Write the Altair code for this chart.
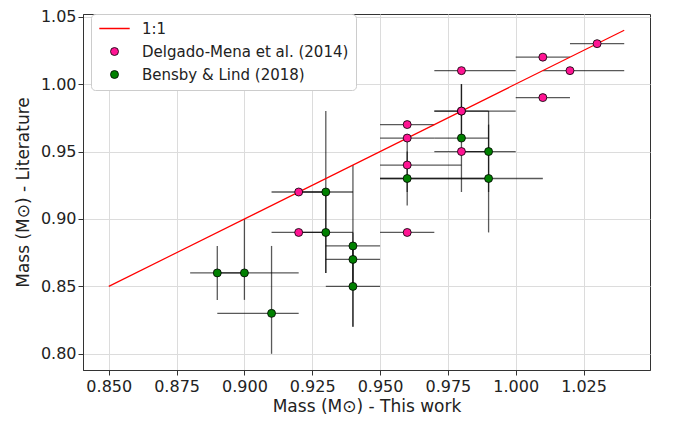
import altair as alt
import pandas as pd

# ---------------- data ----------------
series_names = ["1:1", "Delgado-Mena et al. (2014)", "Bensby & Lind (2018)"]

# 1:1 line
line_x = [0.85, 1.04]
line_y = [0.85, 1.04]

# Delgado-Mena et al. (2014)
dm_x = [0.92, 0.92, 0.96, 0.96, 0.96, 0.96, 0.98, 0.98, 0.98, 1.01, 1.01, 1.02, 1.03]
dm_y = [0.92, 0.89, 0.97, 0.96, 0.94, 0.89, 1.01, 0.98, 0.95, 1.02, 0.99, 1.01, 1.03]
dm_xlo = [0.91, 0.91, 0.95, 0.95, 0.95, 0.95, 0.97, 0.97, 0.97, 1.00, 1.00, 1.01, 1.02]
dm_xhi = [0.93, 0.93, 0.97, 0.97, 0.98, 0.97, 1.00, 1.00, 0.99, 1.02, 1.02, 1.04, 1.04]
dm_ylo = [0.92, 0.89, 0.97, 0.96, 0.92, 0.89, 1.01, 0.98, 0.95, 1.02, 0.99, 1.01, 1.03]
dm_yhi = [0.92, 0.89, 0.97, 0.96, 0.96, 0.89, 1.01, 0.98, 0.95, 1.02, 0.99, 1.01, 1.03]

# Bensby & Lind (2018)
bl_x = [0.89, 0.90, 0.91, 0.93, 0.93, 0.94, 0.94, 0.94, 0.96, 0.98, 0.98, 0.99, 0.99]
bl_y = [0.86, 0.86, 0.83, 0.92, 0.89, 0.88, 0.87, 0.85, 0.93, 0.98, 0.96, 0.95, 0.93]
bl_xlo = [0.88, 0.89, 0.89, 0.92, 0.92, 0.93, 0.93, 0.93, 0.95, 0.97, 0.97, 0.98, 0.95]
bl_xhi = [0.90, 0.92, 0.92, 0.94, 0.94, 0.95, 0.95, 0.95, 0.99, 0.99, 0.99, 1.00, 1.01]
bl_ylo = [0.84, 0.84, 0.80, 0.86, 0.86, 0.82, 0.85, 0.82, 0.91, 0.96, 0.92, 0.92, 0.89]
bl_yhi = [0.88, 0.90, 0.88, 0.98, 0.92, 0.94, 0.89, 0.88, 0.95, 1.00, 1.00, 0.98, 0.97]

x_ticks = [0.850, 0.875, 0.900, 0.925, 0.950, 0.975, 1.000, 1.025]
y_ticks = [0.80, 0.85, 0.90, 0.95, 1.00, 1.05]
x_domain = [0.8405, 1.0495]
y_domain = [0.788, 1.052]

# ---------------- tables ----------------
pts = pd.DataFrame({
    "x": bl_x + dm_x,
    "y": bl_y + dm_y,
    "xlo": bl_xlo + dm_xlo,
    "xhi": bl_xhi + dm_xhi,
    "ylo": bl_ylo + dm_ylo,
    "yhi": bl_yhi + dm_yhi,
    "series": [series_names[2]] * len(bl_x) + [series_names[1]] * len(dm_x),
})
hbars = pts[pts["xlo"] != pts["xhi"]]
vbars = pts[pts["ylo"] != pts["yhi"]]
line_df = pd.DataFrame({"x": line_x, "y": line_y, "lbl": [series_names[0]] * len(line_x)})

FONT = "DejaVu Sans"
xscale = alt.Scale(domain=x_domain, nice=False, zero=False)
yscale = alt.Scale(domain=y_domain, nice=False, zero=False)

xaxis = alt.Axis(values=x_ticks, format=".3f", title="Mass (M\u2299) - This work",
                 tickSize=5, labelPadding=3, titlePadding=4)
yaxis = alt.Axis(values=y_ticks, format=".2f", title="Mass (M\u2299) - Literature",
                 tickSize=5, labelPadding=2, titlePadding=8)

LINE_PATH = "M-3.8,0H3.8"
legend_common = dict(
    title=None, orient="none", legendX=8, legendY=0, padding=7,
    labelFont=FONT, labelFontSize=15, labelLimit=400,
    symbolSize=64, symbolOpacity=1,
    rowPadding=7, symbolOffset=9, labelOffset=20,
)

err_h = alt.Chart(hbars).mark_rule(color="black", opacity=0.65, strokeWidth=1.3).encode(
    x=alt.X("xlo:Q", scale=xscale, axis=xaxis),
    x2="xhi:Q",
    y=alt.Y("y:Q", scale=yscale, axis=yaxis),
)
err_v = alt.Chart(vbars).mark_rule(color="black", opacity=0.65, strokeWidth=1.3).encode(
    x=alt.X("x:Q", scale=xscale, axis=xaxis),
    y=alt.Y("ylo:Q", scale=yscale, axis=yaxis),
    y2="yhi:Q",
)
# the 1:1 line; its legend only draws the red stroke symbol, on top of the main legend box
one_to_one = alt.Chart(line_df).mark_line(strokeWidth=1.2).encode(
    x=alt.X("x:Q", scale=xscale, axis=xaxis),
    y=alt.Y("y:Q", scale=yscale, axis=yaxis),
    color=alt.Color("lbl:N", scale=alt.Scale(domain=[series_names[0]], range=["#ff0000"]),
                    legend=alt.Legend(**legend_common, symbolType=LINE_PATH, symbolStrokeWidth=1.5,
                                      labelOpacity=0, zindex=2)),
)

main_legend = alt.Legend(**legend_common, fillColor="white", strokeColor="#cccccc", cornerRadius=4,
                         labelColor="#222222", symbolStrokeWidth=0.8, zindex=1)
points = alt.Chart(pts).mark_point(filled=True, size=64, opacity=1, stroke="black", strokeWidth=0.8).encode(
    x=alt.X("x:Q", scale=xscale, axis=xaxis),
    y=alt.Y("y:Q", scale=yscale, axis=yaxis),
    fill=alt.Fill("series:N", scale=alt.Scale(domain=series_names, range=["transparent", "#ff1493", "#008000"]),
                  legend=main_legend),
    shape=alt.Shape("series:N", scale=alt.Scale(domain=series_names, range=["M0,0", "circle", "circle"]),
                    legend=main_legend),
)

chart = alt.layer(err_h, err_v, one_to_one, points).properties(
    width=567, height=356,
    padding={"left": 75, "top": 6, "right": 17, "bottom": 44},
    autosize=alt.AutoSizeParams(type="none"),
).resolve_scale(color="independent").configure(font=FONT).configure_view(
    stroke="#333333", strokeWidth=1
).configure_axis(
    labelFont=FONT, titleFont=FONT, labelFontSize=16, titleFontSize=17,
    titleFontWeight="normal", labelColor="#222222", titleColor="#222222",
    domainColor="#333333", tickColor="#333333", tickWidth=1,
    gridColor="#dcdcdc", gridWidth=1,
)

chart.save("out.html", embed_options={"renderer": "svg", "actions": False})
